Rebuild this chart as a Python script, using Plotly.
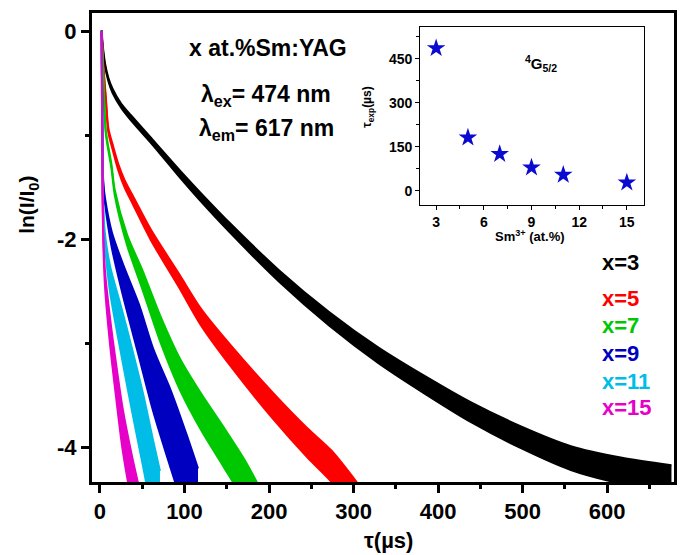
import plotly.graph_objects as go

# ---------------- data ----------------
# decay curves: time (us), centre of ln(I/I0) trace, vertical noise spread
t_x3 = [2, 3, 4, 6, 10, 15, 25, 39, 62, 98, 118, 153, 212, 271, 329, 385, 439, 498, 557, 616, 676]
v_x3 = [0, -0.12, -0.2, -0.32, -0.46, -0.57, -0.71, -0.85, -1.06, -1.4, -1.58, -1.88, -2.35, -2.76, -3.11, -3.4, -3.66, -3.9, -4.1, -4.22, -4.3]
s_x3 = [0.03, 0.03, 0.03, 0.03, 0.03, 0.04, 0.04, 0.05, 0.05, 0.07, 0.08, 0.09, 0.11, 0.13, 0.15, 0.17, 0.19, 0.21, 0.23, 0.25, 0.26]

t_x5 = [2, 4, 7, 10, 15.7, 21.6, 29, 39, 60, 94, 120, 153, 205, 245, 274, 310]
v_x5 = [0, -0.33, -0.65, -0.95, -1.13, -1.3, -1.46, -1.62, -1.95, -2.4, -2.75, -3.1, -3.6, -3.95, -4.18, -4.55]
s_x5 = [0.02, 0.02, 0.03, 0.04, 0.05, 0.06, 0.07, 0.08, 0.1, 0.13, 0.16, 0.2, 0.25, 0.28, 0.3, 0.3]

t_x7 = [2, 3.9, 7, 13.7, 17.6, 32, 50, 72, 95, 120, 146, 172, 190]
v_x7 = [0, -0.4, -0.97, -1.3, -1.55, -2.0, -2.38, -2.87, -3.3, -3.66, -3.99, -4.33, -4.6]
s_x7 = [0.02, 0.02, 0.03, 0.04, 0.05, 0.1, 0.18, 0.25, 0.3, 0.35, 0.38, 0.4, 0.4]

t_x9 = [2, 3, 3.9, 5.9, 14, 27, 46, 63, 84, 104, 116]
v_x9 = [0, -1.0, -1.46, -1.62, -2.0, -2.38, -2.87, -3.35, -3.83, -4.31, -4.6]
s_x9 = [0.02, 0.03, 0.04, 0.05, 0.15, 0.3, 0.5, 0.6, 0.75, 0.8, 0.8]

t_x11 = [2, 2.7, 3.5, 6, 12, 25, 38, 51, 63, 71]
v_x11 = [0, -1.0, -1.62, -2.0, -2.38, -2.87, -3.35, -3.83, -4.31, -4.6]
s_x11 = [0.02, 0.03, 0.05, 0.1, 0.25, 0.45, 0.6, 0.7, 0.75, 0.75]

t_x15 = [2, 2.6, 3.2, 4, 6, 11.8, 19, 27, 38, 46]
v_x15 = [0, -1.0, -1.62, -2.0, -2.38, -2.87, -3.35, -3.83, -4.31, -4.6]
s_x15 = [0.02, 0.03, 0.05, 0.08, 0.15, 0.25, 0.32, 0.4, 0.45, 0.45]

series_labels = ["x=3", "x=5", "x=7", "x=9", "x=11", "x=15"]
series_colors = ["#000000", "#ff0000", "#00c800", "#0000c0", "#00bde8", "#e600c8"]

# inset: lifetime vs Sm concentration
sm_conc = [3, 5, 7, 9, 11, 15]
tau_exp = [486, 181, 125, 79, 54, 28]

main_xticks = [0, 100, 200, 300, 400, 500, 600]
main_yticks = [0, -2, -4]
main_yticktext = ["0", "-2", "-4"]
inset_xticks = [3, 6, 9, 12, 15]
inset_yticks = [0, 150, 300, 450]

# ---------------- figure ----------------
FONT = "Arial, Liberation Sans, sans-serif"
fig = go.Figure()

curves = [
    (t_x3, v_x3, s_x3), (t_x5, v_x5, s_x5), (t_x7, v_x7, s_x7),
    (t_x9, v_x9, s_x9), (t_x11, v_x11, s_x11), (t_x15, v_x15, s_x15),
]
for (t, v, s), col in zip(curves, series_colors):
    upper = [c + d / 2 for c, d in zip(v, s)]
    lower = [c - d / 2 for c, d in zip(v, s)]
    fig.add_trace(go.Scatter(
        x=t, y=lower, mode="lines",
        line=dict(color=col, width=2, shape="spline", smoothing=0.8),
        showlegend=False, hoverinfo="skip", xaxis="x", yaxis="y"))
    fig.add_trace(go.Scatter(
        x=t, y=upper, mode="lines", fill="tonexty", fillcolor=col,
        line=dict(color=col, width=2, shape="spline", smoothing=0.8),
        showlegend=False, hoverinfo="skip", xaxis="x", yaxis="y"))

fig.add_trace(go.Scatter(
    x=sm_conc, y=tau_exp, mode="markers",
    marker=dict(symbol="star", size=14, color="#0a0ad0", line=dict(width=0)),
    showlegend=False, xaxis="x2", yaxis="y2"))

axis_common = dict(showgrid=False, zeroline=False, showline=True, linecolor="black",
                   mirror=True, ticks="outside", tickcolor="black")

fig.update_layout(
    width=686, height=555,
    margin=dict(l=92, r=9, t=13, b=73),
    paper_bgcolor="white", plot_bgcolor="white",
    font=dict(family=FONT, color="black", size=14),
    xaxis=dict(**axis_common, domain=[0, 1], range=[-9.4, 679], tickvals=main_xticks,
               linewidth=3, tickwidth=2.5, ticklen=8,
               minor=dict(dtick=50, tick0=0, ticklen=4, tickwidth=2.5, ticks="outside", tickcolor="black"),
               tickfont=dict(size=22, family=FONT, weight="bold", color="black")),
    yaxis=dict(**axis_common, domain=[0, 1], range=[-4.33, 0.18], tickvals=main_yticks,
               ticktext=main_yticktext, linewidth=3, tickwidth=2.5, ticklen=8,
               minor=dict(dtick=1, tick0=0, ticklen=4, tickwidth=2.5, ticks="outside", tickcolor="black"),
               tickfont=dict(size=22, family=FONT, weight="bold", color="black")),
    xaxis2=dict(**axis_common, domain=[0.564, 0.949], anchor="y2", range=[2, 16.1],
                tickvals=inset_xticks, linewidth=1.2, tickwidth=1.2, ticklen=4,
                minor=dict(dtick=1.5, tick0=0, ticklen=3, tickwidth=1, ticks="outside", tickcolor="black"),
                tickfont=dict(size=14, family=FONT, weight="bold", color="black")),
    yaxis2=dict(**axis_common, domain=[0.591, 0.970], anchor="x2", range=[-48, 558],
                tickvals=inset_yticks, linewidth=1.2, tickwidth=1.2, ticklen=4,
                minor=dict(dtick=75, tick0=0, ticklen=3, tickwidth=1, ticks="outside", tickcolor="black"),
                tickfont=dict(size=14, family=FONT, weight="bold", color="black")),
)

def ann(text, x, y, size, color="black", xanchor="center", textangle=0):
    fig.add_annotation(text=text, x=x, y=y, xref="paper", yref="paper",
                       xanchor=xanchor, yanchor="middle", showarrow=False,
                       textangle=textangle,
                       font=dict(family=FONT, size=size, color=color, weight="bold"))

ann("x at.%Sm:YAG", 0.303, 0.925, 23)
ann("λ<sub>ex</sub>= 474 nm", 0.299, 0.825, 23)
ann("λ<sub>em</sub>= 617 nm", 0.299, 0.751, 23)

label_y = [0.467, 0.392, 0.333, 0.275, 0.215, 0.158]
for lab, col, yy in zip(series_labels, series_colors, label_y):
    ann(lab, 0.8735, yy, 22, color=col, xanchor="left")

ann("ln(I/I<sub>0</sub>)", -0.109, 0.59, 21, textangle=-90)
ann("τ(µs)", 0.509, -0.124, 22)

ann("<sup>4</sup>G<sub>5/2</sub>", 0.771, 0.893, 15)
ann("τ<sub>exp</sub>(µs)", 0.474, 0.80, 12, textangle=-90)
ann("Sm<sup>3+</sup> (at.%)", 0.752, 0.525, 13)

fig.write_html("out.html")
